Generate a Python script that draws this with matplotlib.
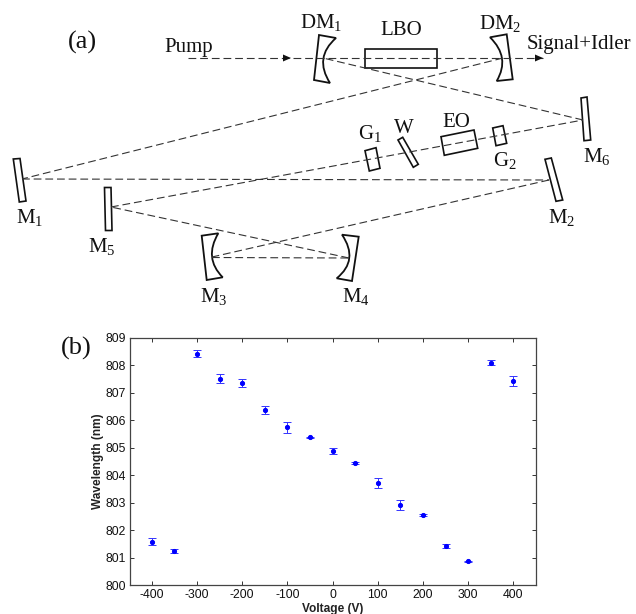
import numpy as np
import matplotlib
matplotlib.use("Agg")
import matplotlib.pyplot as plt
from matplotlib.patches import PathPatch, Polygon
from matplotlib.path import Path

plt.rcParams["font.family"] = ["Liberation Serif", "DejaVu Serif"]
plt.rcParams["mathtext.fontset"] = "custom"
plt.rcParams["mathtext.rm"] = "Liberation Serif"
plt.rcParams["mathtext.default"] = "rm"
plt.rcParams["axes.unicode_minus"] = False

# ── Panel (b) data ───────────────────────────────────────────────────────────
voltage = [-400, -350, -300, -250, -200, -150, -100, -50, 0,
           50, 100, 150, 200, 250, 300, 350, 400]
wavelength = [801.58, 801.24, 808.43, 807.52, 807.37, 806.39, 805.74, 805.38, 804.88,
              804.44, 803.72, 802.92, 802.55, 801.41, 800.86, 808.10, 807.44]
errors = [0.13, 0.06, 0.12, 0.16, 0.15, 0.15, 0.20, 0.03, 0.10,
          0.04, 0.18, 0.18, 0.03, 0.07, 0.03, 0.09, 0.19]
x_ticks = [-400, -300, -200, -100, 0, 100, 200, 300, 400]
y_ticks = [800, 801, 802, 803, 804, 805, 806, 807, 808, 809]

# ── Panel (a) schematic, in image pixels ─────────────────────────────────────
beams = [
    ((188, 58), (543, 58)),
    ((503, 58), (22, 179)),
    ((22, 179), (549, 180)),
    ((549, 180), (212, 257)),
    ((212, 257.5), (349, 258)),
    ((349, 258), (111, 207)),
    ((111, 207), (583, 120)),
    ((583, 120), (323, 58)),
]
arrow_tips = [(291, 58), (543, 58)]

flat_parts = [
    [(13.3, 159), (20, 158.5), (26, 201), (19.3, 202)],            # M1
    [(104.5, 187.5), (111, 187.5), (112, 230.5), (105.5, 230.5)],  # M5
    [(545, 159.3), (551.3, 158), (562.7, 200), (556, 201.3)],      # M2
    [(581, 98), (587, 97), (590.7, 140), (584, 140.7)],            # M6
    [(365.3, 48.7), (437.3, 48.7), (437.3, 68), (365.3, 68)],      # LBO
    [(365, 150.7), (376, 147.7), (380, 168.3), (369.3, 171)],      # G1
    [(398, 140), (402.7, 137.3), (418.3, 164.3), (413.3, 167.3)],  # W
    [(441, 136.7), (474, 130), (477.7, 148.3), (444.3, 155.3)],    # EO
    [(492.7, 128), (503, 125.7), (506.7, 143.3), (496, 145.7)],    # G2
]

# curved mirrors: curve start, curve middle, curve end, then the two back corners
curved_parts = [
    [(218.3, 233.3), (212, 256.7), (222.7, 277.3), (206.7, 280), (201.7, 235.7)],  # M3
    [(342, 234.7), (349.3, 258.3), (336.7, 278.3), (352, 281), (358.7, 236.7)],    # M4
    [(336, 38), (323.3, 59), (330, 83), (314, 80), (319, 35)],                     # DM1
    [(490, 37.3), (502, 58.3), (496.7, 81), (512.7, 79.3), (506.7, 34.3)],         # DM2
]

labels = [
    ("DM$_1$", 300, 28), ("LBO", 380, 35), ("DM$_2$", 479, 29),
    ("Pump", 164, 52), ("Signal+Idler", 527, 49),
    ("G$_1$", 358, 139), ("W", 394, 133), ("EO", 442, 127), ("G$_2$", 493, 166),
    ("M$_1$", 16, 223), ("M$_2$", 548, 223), ("M$_3$", 200, 302),
    ("M$_4$", 342, 302), ("M$_5$", 88, 252), ("M$_6$", 583, 162),
]
panel_labels = [("(a)", 68, 42), ("(b)", 61, 348)]

W, H = 636, 614
fig = plt.figure(figsize=(W / 100, H / 100), dpi=100, facecolor="white")

# ── Schematic layer ──────────────────────────────────────────────────────────
sch = fig.add_axes([0, 0, 1, 1])
sch.set_xlim(0, W)
sch.set_ylim(H, 0)
sch.axis("off")

for start, end in beams:
    sch.plot([start[0], end[0]], [start[1], end[1]], color="#333333", lw=0.8,
             dashes=(7, 3.5), zorder=3)

for tip in arrow_tips:
    sch.add_patch(Polygon([tip, (tip[0] - 8, tip[1] - 3.5), (tip[0] - 8, tip[1] + 3.5)],
                          closed=True, fc="#111111", ec="none", zorder=4))

for corners in flat_parts:
    sch.add_patch(Polygon(corners, closed=True, fc="none", ec="#111111", lw=1.2, zorder=2))

for a, mid, b, c, d in curved_parts:
    a, mid, b = np.array(a), np.array(mid), np.array(b)
    ctrl = 2 * mid - (a + b) / 2
    verts = [a, ctrl, b, c, d, a]
    codes = [Path.MOVETO, Path.CURVE3, Path.CURVE3, Path.LINETO, Path.LINETO, Path.CLOSEPOLY]
    sch.add_patch(PathPatch(Path(verts, codes), fc="none", ec="#111111", lw=1.3, zorder=2))

for text, x, y in labels:
    sch.text(x, y, text, fontsize=15, color="#111111", ha="left", va="baseline")
for text, x, y in panel_labels:
    sch.text(x, y, text, fontsize=19, color="#111111", ha="left", va="center")

# ── Plot (b): wavelength vs voltage ──────────────────────────────────────────
left, right, top, bottom = 130, 536, 338, 585
ax = fig.add_axes([left / W, 1 - bottom / H, (right - left) / W, (bottom - top) / H])
ax.patch.set_alpha(0)
ax.errorbar(voltage, wavelength, yerr=errors, fmt="o", color="#0000ff", ms=3.0, mew=0.7,
            elinewidth=0.7, capsize=2.8, capthick=0.7, ecolor="#3333ff")
ax.set_xlim(-448, 450)
ax.set_ylim(800, 809)
ax.set_xticks(x_ticks)
ax.set_yticks(y_ticks)
ax.tick_params(direction="in", length=3, width=0.7, color="#333333", top=True, right=True,
               labelsize=8.8, labelcolor="#111111", pad=3)
for spine in ax.spines.values():
    spine.set_linewidth(0.9)
    spine.set_color("#444444")
for tick in ax.get_xticklabels() + ax.get_yticklabels():
    tick.set_family("Liberation Sans")
ax.set_xlabel("Voltage (V)", family="Liberation Sans", fontweight="bold", fontsize=8.6,
              color="#222222", labelpad=1)
ax.set_ylabel("Wavelength (nm)", family="Liberation Sans", fontweight="bold", fontsize=8.6,
              color="#222222", labelpad=1)

fig.savefig("out.png", dpi=100)
